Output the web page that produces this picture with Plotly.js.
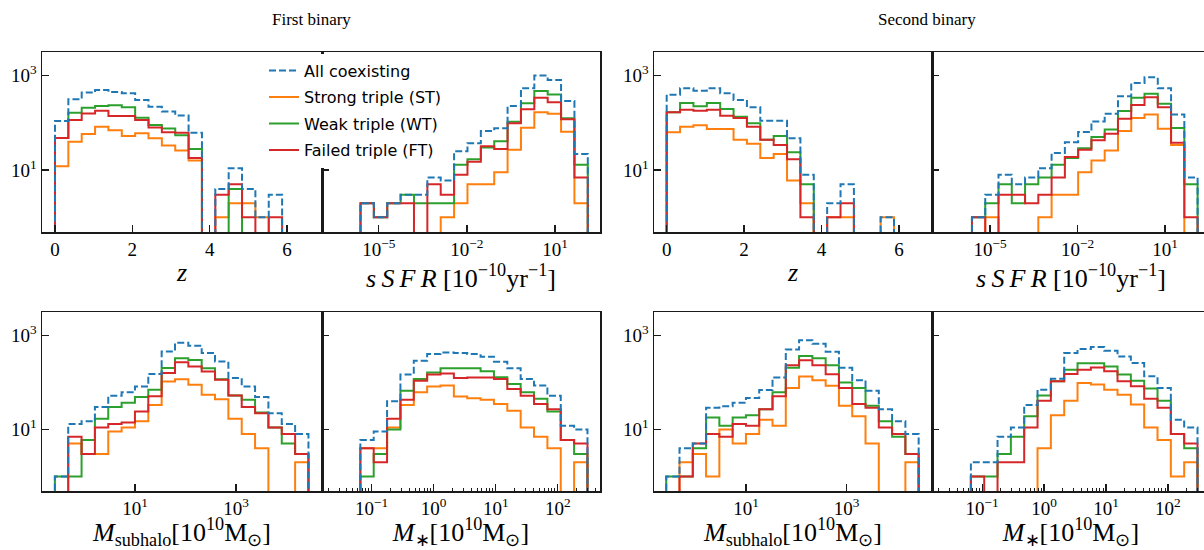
<!DOCTYPE html>
<html><head><meta charset="utf-8">
<script src="https://cdn.plot.ly/plotly-3.0.1.min.js"></script>
<style>html,body{margin:0;padding:0;overflow:hidden;background:#fff;width:1204px;height:550px}#chart{width:1212px;height:550px}</style>
</head><body><div id="chart"></div><script>
// ---------- data (counts per bin) ----------
const seriesNames = ['All coexisting', 'Strong triple (ST)', 'Weak triple (WT)', 'Failed triple (FT)'];

// bin definitions (z linear; others log10 of the bin edges)
const zBins = {start: 0, width: 0.3455};
const sSFRBins = {start: -5.62, width: 0.455};
const mSubBins = {start: -0.587, width: 0.2643};
const mStarBins = {start: -1.182, width: 0.2153};

// First binary
const zFirstAll = [110, 315, 437, 497, 451, 422, 305, 220, 173, 144, 62, 0, 4, 11, 4, 1, 3];
const zFirstST  = [12, 40, 58, 83, 70, 53, 60, 47, 33, 26, 16, 0, 1, 2, 2, 1, 0];
const zFirstWT  = [48, 164, 210, 227, 235, 213, 129, 90, 76, 55, 28, 0, 0, 4, 0, 0, 0];
const zFirstFT  = [48, 115, 158, 181, 140, 140, 115, 80, 63, 62, 18, 0, 3, 5, 1, 0, 1];

const sSFRFirstAll = [2, 1, 2, 3, 3, 7, 6, 25, 37, 67, 77, 228, 541, 1000, 811, 291, 22];
const sSFRFirstST  = [0, 0, 0, 0, 0, 0, 1, 2, 5, 5, 9, 27, 79, 167, 155, 65, 2];
const sSFRFirstWT  = [2, 1, 2, 3, 2, 2, 2, 13, 17, 30, 41, 106, 260, 474, 398, 125, 13];
const sSFRFirstFT  = [2, 1, 2, 2, 0, 5, 3, 8, 15, 32, 28, 98, 194, 342, 273, 119, 7];

const mSubFirstAll = [1, 13, 15, 30, 52, 62, 82, 152, 459, 700, 604, 424, 278, 124, 82, 49, 22, 13, 8];
const mSubFirstST  = [0, 5, 3, 3, 9, 11, 15, 33, 105, 117, 89, 55, 44, 17, 8, 4, 0, 0, 2];
const mSubFirstWT  = [1, 1, 6, 17, 30, 37, 49, 70, 204, 327, 301, 201, 117, 53, 43, 23, 11, 5, 3];
const mSubFirstFT  = [0, 7, 3, 11, 13, 14, 24, 51, 160, 269, 218, 171, 114, 53, 30, 22, 11, 8, 3];

const mStarFirstAll = [6, 9, 40, 147, 290, 402, 436, 422, 402, 353, 277, 200, 119, 86, 52, 12, 10];
const mStarFirstST  = [4, 4, 11, 33, 62, 82, 86, 50, 46, 43, 35, 25, 11, 7, 4, 0, 2];
const mStarFirstWT  = [1, 3, 10, 67, 119, 164, 200, 200, 200, 173, 129, 93, 62, 45, 24, 6, 3];
const mStarFirstFT  = [4, 2, 17, 43, 109, 147, 156, 124, 127, 127, 119, 73, 52, 35, 27, 6, 5];

// Second binary
const zSecondAll = [395, 538, 481, 538, 422, 305, 213, 111, 111, 47, 8, 0, 2, 5, 0, 0, 1];
const zSecondST  = [63, 83, 89, 74, 74, 44, 36, 18, 22, 6, 2, 0, 1, 1, 0, 0, 1];
const zSecondWT  = [167, 263, 224, 263, 196, 135, 98, 44, 53, 24, 5, 0, 0, 0, 0, 0, 0];
const zSecondFT  = [167, 190, 181, 190, 142, 126, 83, 44, 34, 17, 1, 0, 1, 2, 0, 0, 0];

const sSFRSecondAll = [1, 3, 8, 5, 7, 11, 23, 39, 64, 107, 155, 367, 702, 922, 541, 151, 7];
const sSFRSecondST  = [0, 1, 0, 0, 0, 1, 3, 3, 9, 16, 26, 67, 126, 151, 75, 34, 0];
const sSFRSecondWT  = [1, 2, 5, 2, 5, 7, 13, 18, 29, 50, 72, 178, 339, 412, 253, 78, 5];
const sSFRSecondFT  = [1, 0, 3, 3, 2, 3, 7, 19, 27, 43, 59, 122, 240, 348, 215, 38, 1];

const mSubSecondAll = [1, 4, 5, 29, 31, 37, 47, 69, 128, 506, 796, 666, 452, 207, 112, 67, 27, 15, 8];
const mSubSecondST  = [0, 2, 3, 1, 10, 5, 8, 16, 12, 76, 134, 112, 85, 32, 19, 5, 0, 0, 2];
const mSubSecondWT  = [1, 1, 4, 18, 12, 18, 20, 27, 62, 207, 366, 327, 232, 100, 76, 32, 15, 7, 3];
const mSubSecondFT  = [0, 1, 5, 8, 7, 13, 12, 27, 51, 232, 297, 232, 150, 76, 35, 29, 11, 8, 3];

const mStarSecondAll = [2, 2, 7, 11, 33, 70, 120, 422, 513, 566, 473, 359, 259, 135, 76, 16, 11];
const mStarSecondST  = [0, 0, 0, 0, 0, 4, 20, 41, 98, 90, 70, 55, 34, 11, 6, 1, 2];
const mStarSecondWT  = [1, 1, 3, 7, 19, 53, 106, 187, 255, 255, 220, 147, 109, 74, 41, 8, 4];
const mStarSecondFT  = [1, 0, 2, 2, 11, 41, 106, 151, 187, 209, 173, 106, 83, 45, 29, 8, 5];

// tick labels
const zTicks = [0, 2, 4, 6];
const sSFRTickText = ['10<sup>−5</sup>', '10<sup>−2</sup>', '10<sup>1</sup>'];
const mSubTickText = ['10<sup>1</sup>', '10<sup>3</sup>'];
const mStarTickText = ['10<sup>−1</sup>', '10<sup>0</sup>', '10<sup>1</sup>', '10<sup>2</sup>'];
const yTickText = ['10<sup>1</sup>', '10<sup>3</sup>'];

// ---------- helpers ----------
const W = 1212, H = 550;
const FLOOR = 0.01; // empty bins drop below the visible range
const colors = ['#1f77b4', '#ff7f0e', '#2ca02c', '#d62728'];

function edgesLin(b, n) { const e = []; for (let i = 0; i <= n; i++) e.push(b.start + i * b.width); return e; }
function edgesLog(b, n) { const e = []; for (let i = 0; i <= n; i++) e.push(Math.pow(10, b.start + i * b.width)); return e; }

const panels = [
  {n: 1, log: false, bins: zBins, data: [zFirstAll, zFirstST, zFirstWT, zFirstFT], px: [42, 322], py: [52, 232]},
  {n: 2, log: true, bins: sSFRBins, data: [sSFRFirstAll, sSFRFirstST, sSFRFirstWT, sSFRFirstFT], px: [322, 600], py: [52, 232]},
  {n: 3, log: true, bins: mSubBins, data: [mSubFirstAll, mSubFirstST, mSubFirstWT, mSubFirstFT], px: [42, 322], py: [312, 491]},
  {n: 4, log: true, bins: mStarBins, data: [mStarFirstAll, mStarFirstST, mStarFirstWT, mStarFirstFT], px: [322, 600], py: [312, 491]},
  {n: 5, log: false, bins: zBins, data: [zSecondAll, zSecondST, zSecondWT, zSecondFT], px: [654, 932], py: [52, 232]},
  {n: 6, log: true, bins: sSFRBins, data: [sSFRSecondAll, sSFRSecondST, sSFRSecondWT, sSFRSecondFT], px: [932, 1210], py: [52, 232]},
  {n: 7, log: true, bins: mSubBins, data: [mSubSecondAll, mSubSecondST, mSubSecondWT, mSubSecondFT], px: [654, 932], py: [312, 491]},
  {n: 8, log: true, bins: mStarBins, data: [mStarSecondAll, mStarSecondST, mStarSecondWT, mStarSecondFT], px: [932, 1210], py: [312, 491]}
];

const traces = [];
const drawOrder = [1, 2, 3, 0]; // blue dashed drawn on top
panels.forEach(p => {
  const nb = p.data[0].length;
  const edges = p.log ? edgesLog(p.bins, nb) : edgesLin(p.bins, nb);
  drawOrder.forEach(s => {
    const counts = p.data[s];
    const x = [edges[0]], y = [FLOOR];
    for (let i = 0; i < nb; i++) { x.push(edges[i]); y.push(counts[i] > 0 ? counts[i] : FLOOR); }
    x.push(edges[nb]); y.push(FLOOR);
    traces.push({
      type: 'scatter', mode: 'lines', x: x, y: y,
      xaxis: 'x' + (p.n === 1 ? '' : p.n), yaxis: 'y' + (p.n === 1 ? '' : p.n),
      line: {shape: 'hv', color: colors[s], width: 2, dash: s === 0 ? '7px,3px' : 'solid'},
      name: seriesNames[s], legendgroup: 'g' + s, legendrank: s + 1,
      showlegend: p.n === 1, hoverinfo: 'skip'
    });
  });
});

// minor ticks for stellar mass axes
const mStarMinor = [];
[0.01, 0.1, 1, 10, 100].forEach(d => { for (let k = 2; k <= 9; k++) mStarMinor.push(k * d); });

const serif = 'Liberation Serif, Times New Roman, serif';
const tickFont = {family: serif, size: 19, color: '#000'};
const titleFont = {family: serif, size: 26, color: '#000'};

const layout = {
  width: W, height: H, margin: {l: 0, r: 0, t: 0, b: 0},
  paper_bgcolor: '#fff', plot_bgcolor: 'rgba(0,0,0,0)',
  showlegend: true,
  legend: {x: 264 / W, y: 1 - 53.5 / H, xanchor: 'left', yanchor: 'top',
           bgcolor: '#fff', borderwidth: 0, font: {family: 'DejaVu Sans', size: 16, color: '#000'},
           traceorder: 'grouped', tracegroupgap: 2.7},
  annotations: [
    {text: 'First binary', xref: 'paper', yref: 'paper', x: 311 / W, y: 1 - 19 / H, showarrow: false,
     xanchor: 'center', yanchor: 'middle', font: {family: serif, size: 17, color: '#000'}},
    {text: 'Second binary', xref: 'paper', yref: 'paper', x: 927 / W, y: 1 - 19 / H, showarrow: false,
     xanchor: 'center', yanchor: 'middle', font: {family: serif, size: 17, color: '#000'}}
  ]
};

const axBase = {showline: true, mirror: true, linecolor: '#1a1a1a', linewidth: 1.5, showgrid: false, zeroline: false,
                ticks: 'inside', ticklen: 7, tickwidth: 1.3, tickcolor: '#1a1a1a', tickfont: tickFont};

const ssfrTitle = '<i>s\u2009S\u2009F\u2009R</i> [10<sup>−10</sup>yr<sup>−1</sup>]';
const msubTitle = '<i>M</i><sub>subhalo</sub>[10<sup>10</sup>M<sub>⊙</sub>]';
const mstarTitle = '<i>M</i><sub>∗</sub>[10<sup>10</sup>M<sub>⊙</sub>]';
const xTitles = {1: '<i>z</i>', 5: '<i>z</i>', 2: ssfrTitle, 6: ssfrTitle, 3: msubTitle, 7: msubTitle, 4: mstarTitle, 8: mstarTitle};
const xRanges = {1: [-0.336, 6.905], 5: [-0.328, 6.855], 2: [-6.93, 2.53], 6: [-6.99, 2.54],
                 3: [-0.842, 4.703], 7: [-0.83, 4.70], 4: [-1.80, 2.68], 8: [-1.81, 2.68]};

panels.forEach(p => {
  const sfx = p.n === 1 ? '' : p.n;
  const topRow = p.py[0] < 100;
  const xa = Object.assign({}, axBase, {
    domain: [p.px[0] / W, p.px[1] / W], anchor: 'y' + sfx, range: xRanges[p.n],
    title: {text: xTitles[p.n], font: titleFont, standoff: topRow ? 3 : 9}
  });
  if (!p.log) { xa.type = 'linear'; xa.tickvals = zTicks; xa.ticktext = zTicks.map(String); }
  else if (p.n === 2 || p.n === 6) { xa.type = 'log'; xa.tickvals = [1e-5, 1e-2, 1e1]; xa.ticktext = sSFRTickText; }
  else if (p.n === 3 || p.n === 7) { xa.type = 'log'; xa.tickvals = [10, 1000]; xa.ticktext = mSubTickText; }
  else {
    xa.type = 'log'; xa.tickvals = [0.1, 1, 10, 100]; xa.ticktext = mStarTickText;
    xa.minor = {tickmode: 'array', tickvals: mStarMinor, ticks: 'inside', ticklen: 3.5, tickwidth: 1, tickcolor: '#1a1a1a', showgrid: false};
  }
  const ya = Object.assign({}, axBase, {
    domain: [1 - p.py[1] / H, 1 - p.py[0] / H], anchor: 'x' + sfx, type: 'log', range: [-0.31, 3.5],
    tickvals: [10, 1000], ticktext: yTickText, showticklabels: (p.n % 2 === 1)
  });
  layout['xaxis' + sfx] = xa;
  layout['yaxis' + sfx] = ya;
});

Plotly.newPlot('chart', traces, layout, {staticPlot: true, displayModeBar: false});
</script></body></html>
